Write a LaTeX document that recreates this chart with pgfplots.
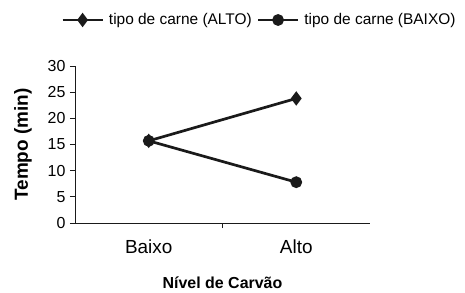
\documentclass[border=0pt]{standalone}
\usepackage{pgfplots}
\pgfplotsset{compat=1.18}
\usepackage{fontspec}
\setmainfont{Liberation Sans}
\definecolor{ink}{HTML}{1A1A1A}
\begin{document}
\begin{tikzpicture}
\begin{axis}[
  scale only axis, width=295bp, height=157bp,
  xmin=-0.5, xmax=1.5, ymin=0, ymax=30,
  axis lines*=left,
  axis line style={draw=ink, line width=0.8bp},
  tick align=outside,
  major tick length=5bp,
  tick style={draw=ink, line width=0.8bp},
  xtick={0.5}, xticklabels={},
  extra x ticks={0,1}, extra x tick labels={Baixo,Alto},
  extra x tick style={major tick length=0pt, tick style={draw=none}},
  ytick={0,5,...,30},
  /pgf/number format/assume math mode=true,
  yticklabel style={font=\fontsize{16}{18}\selectfont, xshift=-1bp},
  xticklabel style={font=\fontsize{19}{22}\selectfont, yshift=-13bp},
  ylabel={\textbf{Tempo (min)}},
  ylabel style={font=\fontsize{19}{22}\selectfont, at={(rel axis cs:-0.176,0.5)}, anchor=center, rotate=0},
  xlabel={\textbf{Nível de Carvão}},
  xlabel style={font=\fontsize{16}{18}\selectfont, at={(rel axis cs:0.5,-0.382)}, anchor=center},
  legend columns=2,
  legend style={at={(rel axis cs:0.625,1.293)}, anchor=center, draw=none, fill=none,
    font=\fontsize{15.5}{18}\selectfont, column sep=3bp, inner sep=0pt},
  legend image code/.code={\draw[mark repeat=2,mark phase=2,#1] plot coordinates {(0bp,0bp)(20bp,0bp)(40bp,0bp)};},
  clip=false,
]
\addplot[ink, line width=2.7bp, mark=diamond*, mark size=5bp, mark options={solid, fill=ink}]
  coordinates {(0,15.7) (1,23.8)};
\addlegendentry{tipo de carne (ALTO)}
\addplot[ink, line width=2.7bp, mark=*, mark size=4.5bp, mark options={solid, fill=ink}]
  coordinates {(0,15.7) (1,7.8)};
\addlegendentry{tipo de carne (BAIXO)}
\useasboundingbox (rel axis cs:-0.2542,-0.4268) rectangle (rel axis cs:1.322,1.4204);
\end{axis}
\end{tikzpicture}
\end{document}
